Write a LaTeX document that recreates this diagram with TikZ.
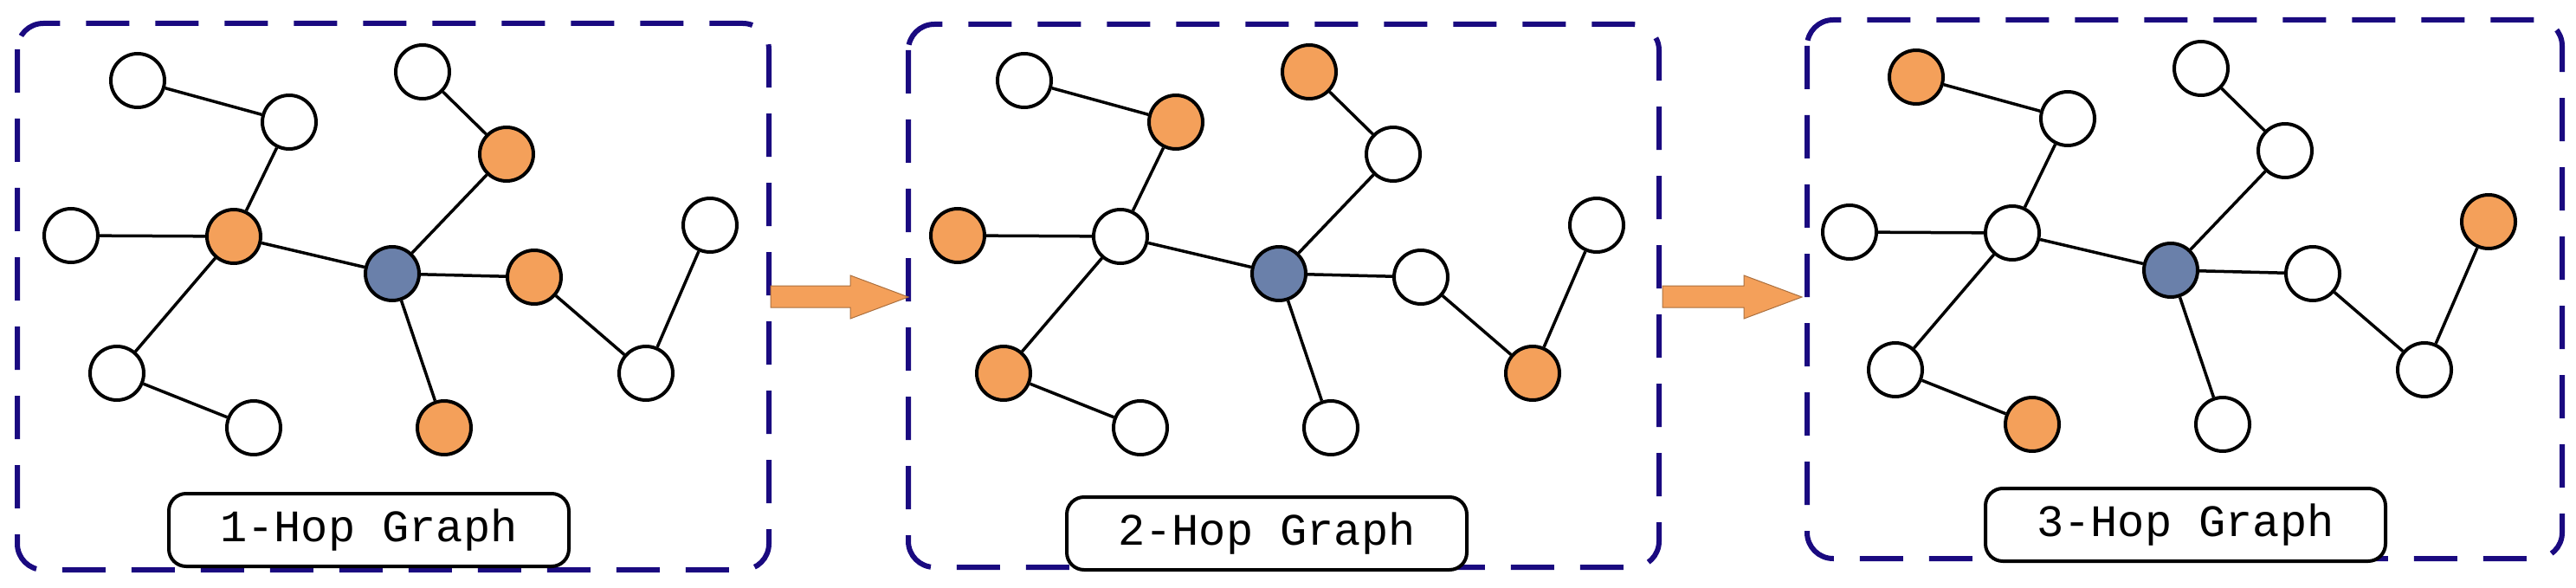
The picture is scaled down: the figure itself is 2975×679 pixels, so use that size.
\documentclass[tikz,border=0pt]{standalone}
\usepackage{fontspec}
\setmainfont{Liberation Mono}
\definecolor{orng}{HTML}{F4A05A}
\definecolor{blu}{HTML}{6A80AA}
\definecolor{navy}{HTML}{1A0A80}
\begin{document}
\begin{tikzpicture}[x=1pt,y=-1pt,
  nd/.style={circle,draw=black,line width=4pt,minimum size=62pt,inner sep=0pt},
  w/.style={nd,fill=white}, o/.style={nd,fill=orng}, b/.style={nd,fill=blu},
  ed/.style={line width=3.5pt},
  panel/.style={draw=navy,line width=6pt,dash pattern=on 50pt off 30pt,rounded corners=30pt},
  lab/.style={draw=black,line width=4pt,rounded corners=20pt,fill=white,minimum width=462pt,minimum height=84pt,font=\fontsize{52}{56}\selectfont},
  arr/.style={fill=orng,draw=orng!70!black,line width=1pt}]
\useasboundingbox (0,0) rectangle (2975,679);
\newcommand\hopgraph[3]{%
\begin{scope}[shift={(#1)}]
\foreach \n/\x/\y in {A/159/93,B/334/141,C/488/83,D/585/178,E/82/272,F/270/273,G/453/316,H/617/320,I/820/260,J/135/431,K/293/494,L/513/494,M/746/431}{\coordinate (#2\n) at (\x,\y);}
\end{scope}
\foreach \n/\s in {#3}{\node[\s] (#2n\n) at (#2\n) {};}
\foreach \a/\c in {A/B,B/F,E/F,F/G,F/J,J/K,C/D,D/G,G/H,G/L,H/M,M/I}{\draw[ed] (#2n\a) -- (#2n\c);}
}
% panel boxes
\draw[panel] (20,27) rectangle (888,658);
\draw[panel] (1049,28) rectangle (1916,655);
\draw[panel] (2087,23) rectangle (2959,645);
\hopgraph{0,0}{p}{A/w,B/w,C/w,D/o,E/w,F/o,G/b,H/o,I/w,J/w,K/w,L/o,M/w}
\hopgraph{1024,0}{q}{A/w,B/o,C/o,D/w,E/o,F/w,G/b,H/w,I/w,J/o,K/w,L/w,M/o}
\hopgraph{2054,-4}{r}{A/o,B/w,C/w,D/w,E/w,F/w,G/b,H/w,I/o,J/w,K/o,L/w,M/w}
\node[lab] (l1) at (426,612) {1-Hop Graph};
\node[lab] (l2) at (1463,616) {2-Hop Graph};
\node[lab] (l3) at (2524,606) {3-Hop Graph};
\draw[arr] (890,330) -- (982,330) -- (982,318) -- (1049,343) -- (982,368) -- (982,355) -- (890,355) -- cycle;
\draw[arr] (1920,330) -- (2014,330) -- (2014,318) -- (2081,343) -- (2014,368) -- (2014,355) -- (1920,355) -- cycle;
\end{tikzpicture}
\end{document}
